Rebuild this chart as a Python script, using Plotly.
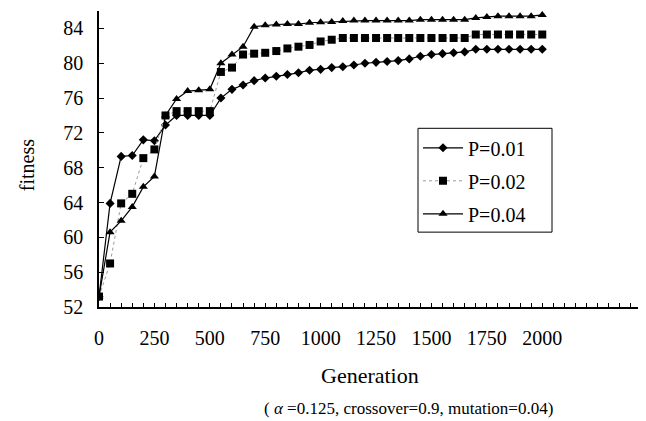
import plotly.graph_objects as go

# ---- data ----
generations = list(range(0, 2001, 50))

p001 = [53.2, 63.9, 69.3, 69.4, 71.2, 71.1, 72.9, 74.0, 74.0, 74.0,
        74.0, 76.0, 77.0, 77.5, 78.0, 78.3, 78.5, 78.7, 78.9, 79.2,
        79.3, 79.5, 79.6, 79.8, 80.0, 80.1, 80.2, 80.3, 80.5, 80.8,
        81.0, 81.1, 81.2, 81.3, 81.6, 81.6, 81.6, 81.6, 81.6, 81.6,
        81.6]

p002 = [53.2, 57.0, 63.9, 65.0, 69.1, 70.1, 74.0, 74.5, 74.5, 74.5,
        74.5, 79.0, 79.5, 81.0, 81.1, 81.2, 81.4, 81.7, 81.9, 82.1,
        82.5, 82.7, 82.9, 82.9, 82.9, 82.9, 82.9, 82.9, 82.9, 82.9,
        82.9, 82.9, 82.9, 82.9, 83.3, 83.3, 83.3, 83.3, 83.3, 83.3,
        83.3]

p004 = [53.2, 60.6, 61.9, 63.5, 65.8, 67.0, 74.0, 75.9, 76.8, 76.9,
        77.0, 80.0, 81.0, 81.9, 84.2, 84.35, 84.45, 84.5, 84.5, 84.65,
        84.7, 84.75, 84.85, 84.9, 84.9, 84.9, 84.9, 84.9, 84.9, 85.0,
        85.0, 85.0, 85.0, 85.0, 85.2, 85.3, 85.4, 85.4, 85.4, 85.4,
        85.55]

series_names = ["P=0.01", "P=0.02", "P=0.04"]

x_tick_vals = list(range(0, 2451, 50))
x_tick_text = [str(v) if (v % 250 == 0 and v <= 2000) else "" for v in x_tick_vals]
y_tick_vals = [52, 56, 60, 64, 68, 72, 76, 80, 84]
y_tick_text = [str(v) for v in y_tick_vals]

x_title = "Generation"
y_title = "fitness"
subtitle = "( <i>α</i> =0.125, crossover=0.9, mutation=0.04)"

FONT = "Liberation Serif"

# The page body has an 8px margin, so the figure is drawn 8px smaller
# and all pixel positions below are given relative to the figure.
OFF = 8
PL, PR, PT, PB = 99 - OFF, 642 - OFF, 10.5 - OFF, 307 - OFF
PW, PH = PR - PL, PB - PT


def px_x(x):
    return (x - OFF - PL) / PW


def px_y(y):
    return (PB - (y - OFF)) / PH


fig = go.Figure()
fig.add_trace(go.Scatter(
    x=generations, y=p001, name=series_names[0], mode="lines+markers",
    line=dict(color="black", width=1.2),
    marker=dict(symbol="diamond", size=7, color="black"),
    legendgroup="a"))
fig.add_trace(go.Scatter(
    x=generations, y=p002, name=series_names[1], mode="lines+markers",
    line=dict(color="#9a9a9a", width=1, dash="dot"),
    marker=dict(symbol="square", size=8, color="black"),
    legendgroup="b"))
fig.add_trace(go.Scatter(
    x=generations, y=p004, name=series_names[2], mode="lines+markers",
    line=dict(color="black", width=1.2),
    marker=dict(symbol="triangle-up", size=8, color="black"),
    legendgroup="c"))

fig.update_layout(
    width=646 - OFF, height=421 - OFF,
    margin=dict(l=PL, r=(646 - OFF) - PR, t=PT, b=(421 - OFF) - PB),
    plot_bgcolor="white", paper_bgcolor="white",
    font=dict(family=FONT, size=20, color="black"),
    showlegend=True,
    legend=dict(
        x=px_x(418), y=px_y(128),
        xanchor="left", yanchor="top",
        borderwidth=0, bgcolor="rgba(0,0,0,0)",
        font=dict(family=FONT, size=20),
        tracegroupgap=4, traceorder="grouped",
        itemwidth=40,
    ),
    shapes=[
        dict(type="rect", xref="paper", yref="paper",
             x0=px_x(418), x1=px_x(552), y0=px_y(232), y1=px_y(128),
             line=dict(color="black", width=1), fillcolor="white",
             layer="below"),
    ],
    xaxis=dict(
        range=[0, 2450], tickmode="array",
        tickvals=x_tick_vals, ticktext=x_tick_text,
        ticks="inside", ticklen=4, tickwidth=1, tickcolor="black",
        showline=True, linecolor="black", linewidth=1.5,
        showgrid=False, zeroline=False,
        ticklabelstandoff=12,
        tickfont=dict(family=FONT, size=20),
    ),
    yaxis=dict(
        range=[52, 86], tickmode="array",
        tickvals=y_tick_vals, ticktext=y_tick_text,
        ticks="inside", ticklen=5, tickwidth=1, tickcolor="black",
        showline=True, linecolor="black", linewidth=1.5,
        showgrid=False, zeroline=False,
        ticklabelstandoff=10,
        tickfont=dict(family=FONT, size=20),
    ),
    annotations=[
        dict(text=x_title, xref="paper", yref="paper",
             x=px_x(370), y=px_y(376), xanchor="center", yanchor="middle",
             showarrow=False, font=dict(family=FONT, size=22)),
        dict(text=subtitle, xref="paper", yref="paper",
             x=px_x(408), y=px_y(409), xanchor="center", yanchor="middle",
             showarrow=False, font=dict(family=FONT, size=17)),
        dict(text=y_title, xref="paper", yref="paper",
             x=px_x(27), y=px_y(165), xanchor="center", yanchor="middle",
             textangle=-90, showarrow=False, font=dict(family=FONT, size=20)),
    ],
)

fig.write_html("out.html")
